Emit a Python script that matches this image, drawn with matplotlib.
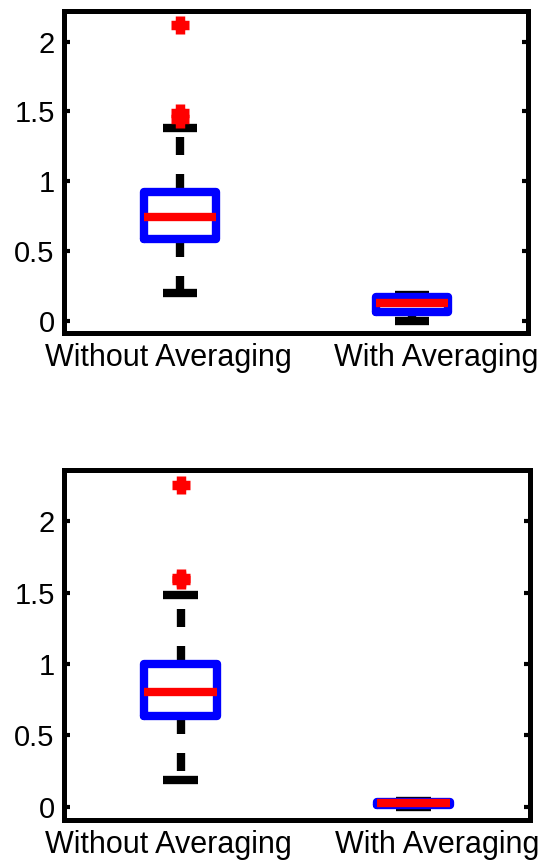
import matplotlib
matplotlib.use('Agg')
import matplotlib.pyplot as plt
from matplotlib.transforms import ScaledTranslation

plt.rcParams['font.family'] = ['Liberation Sans', 'DejaVu Sans']

categories = ['Without Averaging', 'With Averaging']
yticks = [0, 0.5, 1, 1.5, 2]
ytick_labels = ['0', '0.5', '1', '1.5', '2']

# Panel 1 (top)
p1_med = [0.744, 0.134]
p1_q1 = [0.589, 0.067]
p1_q3 = [0.928, 0.172]
p1_whislo = [0.205, 0.0]
p1_whishi = [1.381, 0.185]
p1_fliers = [[2.116, 1.492, 1.447], []]
p1_ylim = (-0.083, 2.218)

# Panel 2 (bottom)
p2_med = [0.803, 0.024]
p2_q1 = [0.632, 0.010]
p2_q3 = [1.001, 0.035]
p2_whislo = [0.187, 0.0]
p2_whishi = [1.481, 0.037]
p2_fliers = [[2.255, 1.605, 1.590], []]
p2_ylim = (-0.093, 2.358)


def make_stats(med, q1, q3, lo, hi, fl):
    stats = []
    for i in range(len(med)):
        stats.append(dict(med=med[i], q1=q1[i], q3=q3[i],
                          whislo=lo[i], whishi=hi[i], fliers=fl[i],
                          label=categories[i]))
    return stats


def draw(fig, ax, stats, ylim):
    ax.bxp(stats, positions=[1, 2], widths=0.31, capwidths=0.15,
           showfliers=True, manage_ticks=False,
           boxprops=dict(color='#0000ff', linewidth=6, solid_joinstyle='round',
                         solid_capstyle='round', zorder=2.1),
           whiskerprops=dict(color='black', linewidth=6, linestyle=(0, (2.16, 2.28)),
                             dash_capstyle='butt', solid_capstyle='butt', zorder=1.9),
           capprops=dict(color='black', linewidth=6, solid_capstyle='butt', zorder=1.9),
           medianprops=dict(color='#ff0000', linewidth=6, solid_capstyle='butt', zorder=2.2),
           flierprops=dict(marker='+', markeredgecolor='#ff0000', markersize=13.5,
                           markeredgewidth=6.8, linestyle='none', zorder=2.3))
    ax.set_xlim(0.5, 2.5)
    ax.set_ylim(*ylim)
    ax.set_xticks([1, 2])
    ax.set_xticklabels(categories)
    ax.set_yticks(yticks)
    ax.set_yticklabels(ytick_labels)
    ax.tick_params(axis='x', length=0, pad=7.5, labelsize=22)
    ax.tick_params(axis='y', direction='in', length=4, width=3, left=True, right=True,
                   pad=6.7, labelsize=21)
    for s in ax.spines.values():
        s.set_linewidth(3.6)
        s.set_color('black')
    shifts = [-12, 24]
    for lab, dx in zip(ax.get_xticklabels(), shifts):
        lab.set_transform(lab.get_transform() +
                          ScaledTranslation(dx / 100, 0, fig.dpi_scale_trans))


fig = plt.figure(figsize=(5.39, 8.64), dpi=100)
ax1 = fig.add_axes([64 / 539, 1 - 333 / 864, 464 / 539, 322 / 864])
ax2 = fig.add_axes([64 / 539, 1 - 820 / 864, 466 / 539, 350 / 864])

draw(fig, ax1, make_stats(p1_med, p1_q1, p1_q3, p1_whislo, p1_whishi, p1_fliers), p1_ylim)
draw(fig, ax2, make_stats(p2_med, p2_q1, p2_q3, p2_whislo, p2_whishi, p2_fliers), p2_ylim)

fig.savefig('out.png', dpi=100, facecolor='white')
